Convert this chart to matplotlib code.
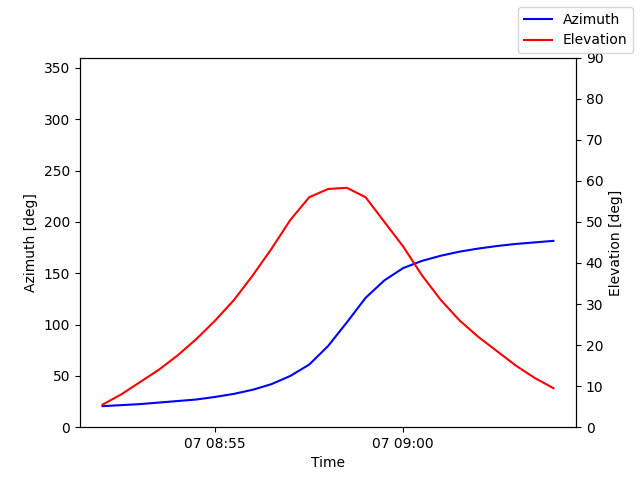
import matplotlib
matplotlib.use("Agg")
import matplotlib.pyplot as plt
import matplotlib.dates as mdates
import pandas as pd

times = pd.date_range("2024-01-07 08:52:00", periods=25, freq="30s")
azimuth = [20.5, 21.5, 22.5, 24, 25.5, 27, 29.5, 32.5, 36.5, 42, 50, 61, 79, 102, 126,
           143, 155, 162, 167, 171, 174, 176.5, 178.5, 180, 181.5]
elevation = [5.5, 8, 11, 14, 17.5, 21.5, 26, 31, 37, 43.5, 50.5, 56, 58, 58.3, 56,
             50, 44, 37, 31, 26, 22, 18.5, 15, 12, 9.5]

fig, ax = plt.subplots(figsize=(6.4, 4.8), dpi=100)
ax.plot(times, azimuth, color="blue", label="Azimuth")
ax.set_ylim(0, 360)
ax.set_ylabel("Azimuth [deg]")
ax.set_xlabel("Time")
ax2 = ax.twinx()
ax2.plot(times, elevation, color="red", label="Elevation")
ax2.set_ylim(0, 90)
ax2.set_ylabel("Elevation [deg]")
ax.xaxis.set_major_locator(mdates.MinuteLocator(byminute=range(0, 60, 5)))
ax.xaxis.set_major_formatter(mdates.DateFormatter("%d %H:%M"))
fig.legend(loc="upper right")
fig.savefig("out.png")
